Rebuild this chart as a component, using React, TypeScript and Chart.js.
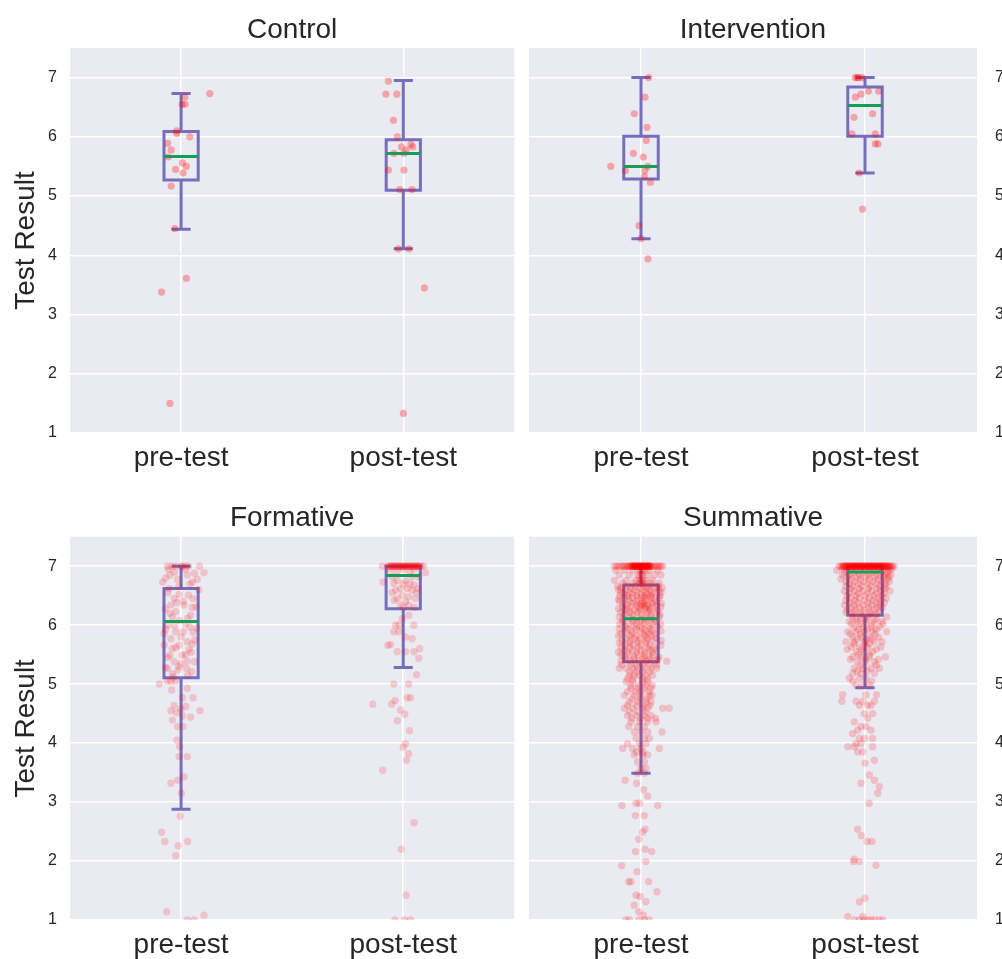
import React, { useEffect, useRef } from 'react';
import { Chart, registerables } from 'chart.js';

Chart.register(...registerables);

const FONT = '"Liberation Sans", Arial, Helvetica, sans-serif';
const TEXT = '#262626';
const BG = '#EAEAF2';
const BOX_COLOR = 'rgb(118,110,186)';
const MEDIAN_COLOR = 'rgb(22,158,84)';

const categories = ['pre-test', 'post-test'];
const yTicks = [1, 2, 3, 4, 5, 6, 7];
const yLabel = 'Test Result';
const panelTitles = ['Control', 'Intervention', 'Formative', 'Summative'];

// [lower whisker, Q1, median, Q3, upper whisker] for pre-test, post-test
const controlStats = [[4.44, 5.27, 5.67, 6.09, 6.73], [4.11, 5.1, 5.72, 5.95, 6.95]];
const interventionStats = [[4.28, 5.29, 5.5, 6.01, 7.0], [5.39, 6.01, 6.53, 6.84, 7.0]];
const formativeStats = [[2.88, 5.11, 6.06, 6.62, 7.0], [5.28, 6.28, 6.84, 7.0, 7.0]];
const summativeStats = [[3.49, 5.38, 6.11, 6.68, 7.0], [4.94, 6.17, 6.9, 7.0, 7.0]];

// individual results: [jitter, value]
const controlPre: [number, number][] = [
  [0.129, 6.73], [0.017, 6.67], [0.005, 6.55], [0.018, 6.55], [-0.02, 6.1], [-0.02, 6.06], [0.039, 6.0],
  [-0.061, 5.89], [-0.045, 5.78], [-0.058, 5.66], [0.006, 5.56], [0.024, 5.5], [-0.025, 5.45], [0.009, 5.39],
  [-0.045, 5.17], [-0.028, 4.45], [0.024, 3.61], [-0.088, 3.38], [-0.05, 1.5],
];
const controlPost: [number, number][] = [
  [-0.067, 6.94], [-0.078, 6.72], [-0.029, 6.72], [-0.044, 6.28], [-0.027, 6.0], [-0.008, 5.83], [0.034, 5.87],
  [0.043, 5.83], [0.013, 5.78], [-0.042, 5.72], [0.003, 5.72], [-0.067, 5.44], [0.003, 5.44], [-0.016, 5.11],
  [0.039, 5.11], [-0.022, 4.11], [0.025, 4.11], [0.095, 3.45], [0.0, 1.33],
];
const interventionPre: [number, number][] = [
  [0.034, 7.0], [0.018, 6.67], [-0.03, 6.39], [0.027, 6.16], [0.024, 5.94], [-0.034, 5.72], [0.01, 5.66],
  [-0.135, 5.5], [0.03, 5.5], [-0.07, 5.43], [0.018, 5.43], [0.015, 5.33], [0.042, 5.23], [-0.009, 4.5],
  [0.0, 4.28], [0.031, 3.94],
];
const interventionPost: [number, number][] = [
  [-0.043, 7.0], [-0.028, 7.0], [-0.013, 7.0], [-0.035, 7.0], [0.016, 6.77], [0.061, 6.77], [-0.018, 6.72],
  [-0.043, 6.67], [-0.049, 6.33], [0.034, 6.39], [-0.058, 6.05], [0.046, 6.05], [0.046, 5.88], [0.058, 5.88],
  [-0.026, 5.39], [-0.011, 4.78],
];
const formativePre: [number, number][] = [
  [-0.061, 7.0], [-0.024, 7.0], [0.006, 7.0], [0.033, 7.0], [0.083, 7.0], [0.0, 7.0], [0.02, 7.0], [-0.04, 7.0],
  [-0.057, 6.95], [0.103, 6.89], [0.028, 6.85], [-0.083, 6.73], [0.073, 6.78], [0.051, 6.73], [-0.016, 6.78],
  [-0.054, 6.62], [-0.009, 6.52], [0.033, 6.51], [-0.031, 6.45], [0.054, 6.45], [-0.046, 6.34], [0.013, 6.34],
  [-0.071, 6.28], [0.068, 6.31], [-0.024, 6.23], [0.043, 6.17], [-0.039, 6.14], [-0.006, 6.08], [0.021, 6.03],
  [-0.061, 6.0], [0.039, 5.97], [-0.024, 5.89], [0.009, 5.89], [-0.076, 5.86], [0.054, 5.88], [-0.046, 5.77],
  [0.028, 5.72], [-0.009, 5.66], [-0.076, 5.66], [0.061, 5.75], [-0.024, 5.62], [0.036, 5.59], [-0.051, 5.49],
  [0.045, 5.54], [0.006, 5.49], [-0.031, 5.38], [-0.001, 5.35], [0.028, 5.39], [-0.061, 5.27], [-0.013, 5.24],
  [0.024, 5.27], [0.048, 5.21], [-0.039, 5.18], [-0.071, 5.28], [-0.046, 5.05], [-0.098, 5.0], [-0.061, 5.05],
  [-0.024, 5.05], [-0.042, 4.9], [0.028, 4.93], [0.006, 4.77], [0.054, 4.77], [-0.031, 4.64], [0.021, 4.62],
  [-0.046, 4.55], [-0.001, 4.58], [0.085, 4.55], [-0.021, 4.52], [-0.039, 4.39], [0.006, 4.46], [0.043, 4.44],
  [-0.016, 4.28], [0.009, 4.28], [-0.019, 4.05], [-0.006, 3.94], [-0.009, 3.77], [0.028, 3.77], [-0.016, 3.37],
  [-0.046, 3.32], [0.013, 3.43], [0.001, 3.15], [-0.004, 2.76], [-0.088, 2.49], [-0.073, 2.33], [-0.013, 2.26],
  [0.03, 2.33], [-0.024, 2.09], [-0.065, 1.14], [0.103, 1.08], [0.028, 1.0], [0.058, 1.0],
  [-0.05, 6.85], [0.02, 6.95], [-0.03, 6.9], [0.06, 6.88], [-0.07, 6.8], [0.04, 6.7], [-0.01, 6.66], [0.08, 6.6],
  [-0.06, 6.55], [0.01, 6.4], [-0.02, 6.38], [0.05, 6.3], [-0.05, 6.2], [0.03, 6.12], [-0.03, 6.0], [0.07, 5.95],
  [-0.07, 5.93], [0.0, 5.8], [0.05, 5.68], [-0.04, 5.6], [0.02, 5.5], [-0.06, 5.45], [0.06, 5.38], [-0.01, 5.3],
  [0.03, 5.15], [-0.035, 5.12],
];
// rows: [value, jitter, jitter, ...]
const formativePostRows: number[][] = [
  [7.0, -0.094, -0.07, -0.064, -0.058, -0.052, -0.046, -0.04, -0.034, -0.028, -0.022, -0.016, -0.01, -0.004, 0.002,
    0.008, 0.014, 0.02, 0.026, 0.032, 0.038, 0.044, 0.05, 0.056, 0.062, 0.068, 0.074, 0.08, 0.092,
    -0.05, -0.035, -0.02, -0.005, 0.01, 0.025, 0.04, 0.055, 0.07],
  [6.95, -0.06, 0.0, 0.05], [6.9, -0.03, 0.03], [6.89, 0.1], [6.82, -0.05, 0.04, 0.07], [6.76, -0.027],
  [6.75, 0.01], [6.73, -0.091], [6.71, -0.042], [6.7, 0.0, 0.03], [6.68, 0.048], [6.62, -0.012, 0.018, 0.067],
  [6.59, -0.034, 0.04], [6.55, -0.05, 0.06], [6.51, -0.004], [6.48, 0.025], [6.45, -0.027, 0.055], [6.42, -0.04],
  [6.4, 0.01], [6.34, -0.012, 0.025], [6.3, 0.0, 0.05], [6.17, 0.025], [6.11, -0.004], [6.0, -0.034, -0.019, 0.048],
  [5.89, -0.042, -0.019], [5.8, 0.01], [5.77, 0.04], [5.67, -0.057], [5.66, -0.069], [5.6, 0.074],
  [5.55, -0.027, 0.01, 0.048], [5.44, 0.07], [5.16, 0.06], [5.0, -0.042, 0.025], [4.77, 0.018, 0.033],
  [4.72, -0.037], [4.66, -0.137, -0.052], [4.56, -0.012], [4.49, 0.007], [4.38, -0.027], [4.21, 0.028],
  [3.99, 0.01], [3.93, 0.0], [3.82, 0.025], [3.71, 0.015], [3.54, -0.092], [2.65, 0.049], [2.2, -0.009],
  [1.42, 0.013], [1.0, -0.037, 0.006, 0.033],
];
const summativePreRows: number[][] = [
  [7.0, -0.119, -0.109, -0.1, -0.089, -0.082, -0.074, -0.067, -0.06, -0.055, -0.052, -0.045, -0.04, -0.037, -0.033,
    -0.03, -0.025, -0.022, -0.019, -0.015, -0.01, -0.007, -0.004, 0.0, 0.003, 0.007, 0.01, 0.015, 0.019, 0.022,
    0.027, 0.03, 0.034, 0.037, 0.042, 0.045, 0.052, 0.06, 0.067, 0.074, 0.082, 0.089, 0.097,
    -0.037, -0.03, -0.022, -0.015, -0.007, 0.0, 0.007, 0.015, 0.022, 0.03, 0.037,
    -0.03, -0.02, -0.01, 0.0, 0.01, 0.02, 0.03, 0.04, -0.045],
  [6.93, -0.112, -0.074, -0.037, -0.007, 0.015, 0.037, 0.074, 0.0, 0.007],
  [6.85, -0.097, -0.052, -0.015, 0.007, 0.03, 0.06, 0.089, -0.004, 0.004],
  [6.76, -0.119, -0.067, -0.022, 0.0, 0.022, 0.052, -0.007, 0.01],
  [6.71, -0.082, -0.037, -0.007, 0.015, 0.045, 0.082, 0.003],
  [6.66, -0.104, -0.06, -0.025, 0.01, 0.04, 0.075],
  [6.63, -0.09, -0.045, -0.005, 0.028, 0.062, 0.095],
  [6.6, -0.1, -0.067, -0.03, 0.007, 0.037, 0.08],
  [6.56, -0.089, -0.052, -0.015, 0.022, 0.06, 0.089],
  [6.53, -0.075, -0.04, 0.0, 0.03, 0.05],
  [6.5, -0.095, -0.06, -0.02, 0.015, 0.045, 0.085],
  [6.47, -0.074, -0.037, 0.003, 0.015, 0.045, 0.082],
  [6.44, -0.1, -0.055, -0.012, 0.025, 0.06],
  [6.4, -0.097, -0.052, -0.022, 0.007, 0.037, 0.067],
  [6.37, -0.08, -0.035, 0.0, 0.012, 0.05, 0.09],
  [6.34, -0.065, -0.02, 0.005, 0.015, 0.03, 0.07],
  [6.31, -0.082, -0.045, -0.007, 0.022, 0.052, 0.089],
  [6.28, -0.1, -0.06, -0.01, 0.02, 0.04],
  [6.25, -0.07, -0.03, 0.0, 0.035, 0.075],
  [6.22, -0.09, -0.05, -0.015, 0.03, 0.067],
  [6.18, -0.075, -0.04, 0.005, 0.045, 0.085],
  [6.14, -0.097, -0.052, -0.015, 0.015, 0.045, 0.082],
  [6.1, -0.08, -0.035, 0.0, 0.03, 0.06],
  [6.06, -0.082, -0.037, -0.007, 0.022, 0.06],
  [6.02, -0.095, -0.055, -0.02, 0.012, 0.05, 0.088],
  [5.98, -0.07, -0.03, 0.0, 0.037, 0.074],
  [5.94, -0.097, -0.06, -0.022, 0.007, 0.04],
  [5.9, -0.074, -0.045, -0.007, 0.022, 0.052, 0.089],
  [5.86, -0.09, -0.04, 0.01, 0.035, 0.065],
  [5.82, -0.1, -0.052, -0.022, 0.015, 0.045],
  [5.78, -0.067, -0.03, 0.0, 0.03, 0.067],
  [5.74, -0.085, -0.045, -0.01, 0.025, 0.055, 0.09],
  [5.7, -0.097, -0.052, -0.015, 0.022],
  [5.66, -0.07, -0.035, 0.0, 0.04, 0.089],
  [5.62, -0.09, -0.05, -0.01, 0.03, 0.06],
  [5.58, -0.074, -0.037, 0.0, 0.037, 0.067],
  [5.54, -0.1, -0.06, -0.02, 0.015, 0.05],
  [5.5, -0.089, -0.052, -0.015, 0.015, 0.052],
  [5.46, -0.075, -0.03, 0.01, 0.04, 0.08],
  [5.42, -0.067, -0.03, 0.007, 0.037, 0.074],
  [5.39, -0.09, -0.05, -0.01, 0.025, 0.06, 0.115],
  [5.33, -0.085, -0.045, -0.02, 0.01, 0.04, 0.07],
  [5.27, -0.097, -0.067, -0.037, -0.015, 0.015, 0.045, 0.07],
  [5.21, -0.05, -0.02, 0.01, 0.04],
  [5.15, -0.052, -0.03, -0.007, 0.022, 0.052],
  [5.09, -0.06, -0.035, 0.005, 0.03],
  [5.04, -0.067, -0.037, 0.007, 0.03],
  [4.98, -0.045, -0.01, 0.02, 0.05],
  [4.93, -0.045, -0.015, 0.015, 0.045],
  [4.87, -0.06, -0.025, 0.0, 0.035],
  [4.81, -0.074, -0.03, 0.0, 0.037, 0.049],
  [4.75, -0.04, -0.005, 0.025],
  [4.7, -0.052, -0.015, 0.022, 0.045],
  [4.64, -0.06, -0.02, 0.01, 0.04],
  [4.59, -0.074, -0.037, 0.007, 0.03, 0.097, 0.126],
  [4.53, -0.05, -0.015, 0.02],
  [4.47, -0.06, -0.022, 0.015, 0.045],
  [4.42, -0.04, 0.0, 0.03, 0.065],
  [4.36, -0.045, -0.007, 0.03, 0.067],
  [4.28, -0.055, -0.015, 0.015],
  [4.19, -0.03, 0.0, 0.03, 0.094],
  [4.08, -0.022, 0.015, 0.037],
  [3.99, -0.06, -0.007, 0.022],
  [3.91, -0.082, -0.037, 0.0, 0.082],
  [3.85, -0.02, 0.01],
  [3.8, -0.03, 0.007, 0.03],
  [3.68, -0.015, 0.015],
  [3.57, 0.0, 0.022],
  [3.49, -0.015, 0.015],
  [3.37, -0.071], [3.32, -0.019], [3.21, 0.012], [3.1, 0.03], [2.98, -0.022, -0.007], [2.94, -0.085, 0.074],
  [2.77, -0.025, 0.015], [2.54, 0.018], [2.49, 0.007], [2.37, -0.01], [2.2, 0.019], [2.16, -0.025, 0.048],
  [1.99, 0.022], [1.92, -0.086], [1.82, -0.018], [1.65, -0.055, -0.045, 0.034], [1.48, 0.071], [1.42, -0.022],
  [1.4, -0.004], [1.31, 0.022], [1.25, -0.03], [1.14, -0.01], [1.08, 0.01], [1.0, -0.067, -0.052, -0.01, 0.015, 0.037],
];
const summativePostRows: number[][] = [
  [7.0, -0.115, -0.108, -0.1, -0.094, -0.088, -0.082, -0.076, -0.07, -0.064, -0.058, -0.052, -0.046, -0.04, -0.034,
    -0.028, -0.022, -0.016, -0.01, -0.004, 0.002, 0.008, 0.014, 0.02, 0.026, 0.032, 0.038, 0.044, 0.05, 0.056,
    0.062, 0.068, 0.074, 0.08, 0.086, 0.092, 0.098, 0.104, 0.11, 0.116, 0.122, 0.13,
    -0.097, -0.085, -0.073, -0.061, -0.049, -0.037, -0.025, -0.013, -0.001, 0.011, 0.023, 0.035, 0.047, 0.059,
    0.071, 0.083, 0.095, 0.107,
    -0.091, -0.079, -0.067, -0.055, -0.043, -0.031, -0.019, -0.007, 0.005, 0.017, 0.029, 0.041, 0.053, 0.065,
    0.077, 0.089, 0.101,
    -0.06, -0.045, -0.03, -0.015, 0.0, 0.015, 0.03, 0.045, 0.06, 0.075],
  [6.96, -0.1, -0.06, -0.02, 0.02, 0.06, 0.1, 0.12],
  [6.93, -0.126, -0.08, -0.04, 0.0, 0.04, 0.08, 0.11],
  [6.89, -0.09, -0.05, -0.01, 0.03, 0.07, 0.1],
  [6.85, -0.1, -0.065, -0.025, 0.015, 0.055, 0.09, 0.116],
  [6.82, -0.075, -0.035, 0.005, 0.045, 0.085, 0.106],
  [6.78, -0.107, -0.06, -0.02, 0.02, 0.06, 0.1],
  [6.74, -0.085, -0.045, -0.005, 0.035, 0.075, 0.109],
  [6.7, -0.07, -0.03, 0.01, 0.05, 0.09],
  [6.66, -0.085, -0.055, -0.015, 0.025, 0.065, 0.094],
  [6.62, -0.062, -0.025, 0.015, 0.055, 0.09],
  [6.58, -0.092, -0.048, -0.01, 0.03, 0.07, 0.112],
  [6.54, -0.07, -0.03, 0.01, 0.05, 0.085],
  [6.5, -0.08, -0.04, 0.0, 0.04, 0.076],
  [6.46, -0.062, -0.025, 0.02, 0.06, 0.095],
  [6.42, -0.085, -0.045, -0.003, 0.035, 0.07],
  [6.38, -0.07, -0.033, 0.012, 0.05, 0.086],
  [6.34, -0.092, -0.05, -0.01, 0.03, 0.065],
  [6.3, -0.062, -0.025, 0.015, 0.055, 0.076],
  [6.26, -0.077, -0.04, 0.0, 0.04],
  [6.22, -0.085, -0.048, -0.01, 0.027, 0.064],
  [6.18, -0.06, -0.02, 0.02, 0.05],
  [6.14, -0.055, -0.018, 0.019, 0.097],
  [6.1, -0.04, 0.0, 0.05],
  [6.06, -0.07, -0.033, 0.004, 0.042, 0.076],
  [6.02, -0.06, -0.02, 0.03, 0.08],
  [5.97, -0.048, -0.01, 0.027, 0.064],
  [5.93, -0.03, 0.01, 0.05],
  [5.89, -0.077, -0.04, -0.003, 0.034, 0.097],
  [5.85, -0.065, -0.02, 0.045],
  [5.8, -0.055, -0.018, 0.019, 0.061],
  [5.76, -0.035, 0.005, 0.03],
  [5.72, -0.085, -0.048, -0.003, 0.042, 0.076],
  [5.68, -0.05, 0.0, 0.02],
  [5.63, -0.062, -0.025, 0.012, 0.071],
  [5.59, -0.08, -0.015, 0.05],
  [5.55, -0.04, -0.003, 0.034],
  [5.5, -0.03, 0.02],
  [5.46, -0.055, -0.018, 0.019, 0.091],
  [5.42, -0.065, 0.0, 0.06],
  [5.38, -0.033, 0.004, 0.042],
  [5.32, -0.02, 0.05],
  [5.27, -0.048, -0.01, 0.027, 0.064],
  [5.22, -0.035, 0.01],
  [5.18, -0.055, -0.018, 0.042],
  [5.1, -0.07, -0.025, 0.004],
  [5.05, -0.055, 0.03],
  [4.98, -0.04, -0.01, 0.019],
  [4.82, -0.1, 0.004, 0.052], [4.71, -0.103, -0.04, -0.01, 0.042], [4.64, -0.025, 0.012, 0.027], [4.5, -0.003, 0.034],
  [4.42, 0.012], [4.36, -0.048], [4.28, -0.018, 0.004], [4.22, -0.033, 0.027], [4.16, -0.055],
  [4.08, -0.025, -0.003, 0.034], [3.99, -0.04, -0.018], [3.94, -0.077, -0.048, 0.034], [3.85, -0.033, -0.01],
  [3.71, 0.042], [3.66, 0.0], [3.46, 0.019], [3.37, 0.042], [3.32, -0.018], [3.26, 0.064], [3.15, 0.057],
  [2.98, 0.019], [2.54, -0.033], [2.43, -0.016], [2.33, 0.009, 0.031], [2.03, -0.048], [1.99, -0.052, -0.025],
  [1.93, 0.049], [1.37, 0.0], [1.31, -0.025], [1.06, -0.077, -0.01],
  [1.0, -0.048, -0.025, -0.003, 0.012, 0.027, 0.042, 0.064, 0.079],
];

type Pair = [number, number];
function fromRows(rows: number[][]): Pair[] {
  const out: Pair[] = [];
  rows.forEach((r) => {
    for (let k = 1; k < r.length; k++) out.push([r[k], r[0]]);
  });
  return out;
}

const BOX_HALF = 0.077;
const CAP_HALF = 0.043;

function buildDatasets(stats: number[][], groups: Pair[][], alpha: number, radius: number) {
  const ds: any[] = [];
  stats.forEach((s, i) => {
    const [lo, q1, med, q3, hi] = s;
    ds.push({
      data: [
        { x: i - BOX_HALF, y: q1 }, { x: i + BOX_HALF, y: q1 }, { x: i + BOX_HALF, y: q3 },
        { x: i - BOX_HALF, y: q3 }, { x: i - BOX_HALF, y: q1 },
      ],
      showLine: true, borderColor: BOX_COLOR, borderWidth: 3, pointRadius: 0, pointHoverRadius: 0,
      borderCapStyle: 'square', borderJoinStyle: 'miter', fill: false, order: 2,
    });
    ds.push({
      data: [
        { x: i, y: q1 }, { x: i, y: lo }, { x: i, y: null },
        { x: i - CAP_HALF, y: lo }, { x: i + CAP_HALF, y: lo }, { x: i, y: null },
        { x: i, y: q3 }, { x: i, y: hi }, { x: i, y: null },
        { x: i - CAP_HALF, y: hi }, { x: i + CAP_HALF, y: hi },
      ],
      showLine: true, spanGaps: false, borderColor: BOX_COLOR, borderWidth: 3, pointRadius: 0, pointHoverRadius: 0,
      borderCapStyle: 'butt', fill: false, order: 2,
    });
    ds.push({
      data: groups[i].map(([o, v]) => ({ x: i + o, y: v })),
      showLine: false, pointRadius: radius, pointHoverRadius: radius, borderWidth: 0,
      backgroundColor: `rgba(255,0,0,${alpha})`, pointBackgroundColor: `rgba(255,0,0,${alpha})`,
      order: 1, clip: 0,
    });
    ds.push({
      data: [{ x: i - BOX_HALF, y: med }, { x: i + BOX_HALF, y: med }],
      showLine: true, borderColor: MEDIAN_COLOR, borderWidth: 3, pointRadius: 0, pointHoverRadius: 0,
      borderCapStyle: 'butt', fill: false, order: 0,
    });
  });
  return ds;
}

const bgPlugin = {
  id: 'plotBg',
  beforeDraw(chart: any) {
    const { ctx, chartArea } = chart;
    if (!chartArea) return;
    ctx.save();
    ctx.fillStyle = BG;
    ctx.fillRect(chartArea.left, chartArea.top, chartArea.right - chartArea.left, chartArea.bottom - chartArea.top);
    ctx.restore();
  },
};

type PanelCfg = {
  title: string; stats: number[][]; groups: Pair[][]; alpha: number; radius: number;
  left: number; top: number; w: number; h: number; isLeft: boolean;
  titlePad: { top: number; bottom: number }; xH: number;
};

const panels: PanelCfg[] = [
  { title: panelTitles[0], stats: controlStats, groups: [controlPre, controlPost], alpha: 0.3, radius: 3.6,
    left: 0, top: 0, w: 518, h: 480, isLeft: true, titlePad: { top: 13, bottom: 1.4 }, xH: 47 },
  { title: panelTitles[1], stats: interventionStats, groups: [interventionPre, interventionPost], alpha: 0.3, radius: 3.6,
    left: 520, top: 0, w: 520, h: 480, isLeft: false, titlePad: { top: 13, bottom: 1.4 }, xH: 47 },
  { title: panelTitles[2], stats: formativeStats, groups: [formativePre, fromRows(formativePostRows)], alpha: 0.17, radius: 3.7,
    left: 0, top: 480, w: 518, h: 479, isLeft: true, titlePad: { top: 21.5, bottom: 1.6 }, xH: 39 },
  { title: panelTitles[3], stats: summativeStats, groups: [fromRows(summativePreRows), fromRows(summativePostRows)], alpha: 0.18, radius: 3.7,
    left: 520, top: 480, w: 520, h: 479, isLeft: false, titlePad: { top: 21.5, bottom: 1.6 }, xH: 39 },
];

function Panel({ p }: { p: PanelCfg }) {
  const ref = useRef<HTMLCanvasElement>(null);
  useEffect(() => {
    const canvas = ref.current;
    if (!canvas) return;
    const chart = new Chart(canvas, {
      type: 'scatter',
      data: { datasets: buildDatasets(p.stats, p.groups, p.alpha, p.radius) },
      options: {
        responsive: false,
        maintainAspectRatio: false,
        animation: false,
        devicePixelRatio: 1,
        events: [],
        layout: { padding: { left: p.isLeft ? 0 : 9, right: 0, top: 0, bottom: 0 } },
        plugins: {
          legend: { display: false },
          tooltip: { enabled: false },
          title: {
            display: true, text: p.title, fullSize: false, color: TEXT,
            font: { family: FONT, size: 28, weight: 'normal' }, padding: p.titlePad,
          },
        },
        scales: {
          x: {
            type: 'linear', min: -0.5, max: 1.5,
            afterBuildTicks: (s: any) => { s.ticks = categories.map((_, i) => ({ value: i })); },
            afterFit: (s: any) => { s.height = p.xH; },
            ticks: {
              callback: (v: any) => categories[Math.round(Number(v))],
              color: TEXT, font: { family: FONT, size: 28 }, padding: 8, autoSkip: false, maxRotation: 0,
            },
            grid: { color: '#ffffff', lineWidth: 1.5, drawTicks: false },
            border: { display: false },
          },
          y: {
            type: 'linear', position: p.isLeft ? 'left' : 'right', min: 1, max: 7.5,
            afterBuildTicks: (s: any) => { s.ticks = yTicks.map((v) => ({ value: v })); },
            afterFit: (s: any) => { s.width = p.isLeft ? 70 : 63; },
            ticks: {
              color: TEXT, font: { family: FONT, size: 16 }, padding: p.isLeft ? 13 : 18,
              callback: (v: any) => String(v),
            },
            grid: { color: '#ffffff', lineWidth: 1.5, drawTicks: false },
            border: { display: false },
            title: {
              display: p.isLeft, text: yLabel, color: TEXT,
              font: { family: FONT, size: 28 }, padding: { top: 9, bottom: 0 },
            },
          },
        },
      } as any,
      plugins: [bgPlugin],
    });
    return () => chart.destroy();
  }, [p]);
  return (
    <canvas
      ref={ref}
      width={p.w}
      height={p.h}
      style={{ position: 'absolute', left: p.left, top: p.top, width: p.w, height: p.h }}
    />
  );
}

export default function App() {
  useEffect(() => {
    document.body.style.margin = '0';
    document.body.style.overflow = 'hidden';
  }, []);
  return (
    <div style={{ position: 'absolute', left: 0, top: 0, width: 1002, height: 959, overflow: 'hidden', background: '#ffffff' }}>
      {panels.map((p) => (
        <Panel key={p.title} p={p} />
      ))}
    </div>
  );
}
